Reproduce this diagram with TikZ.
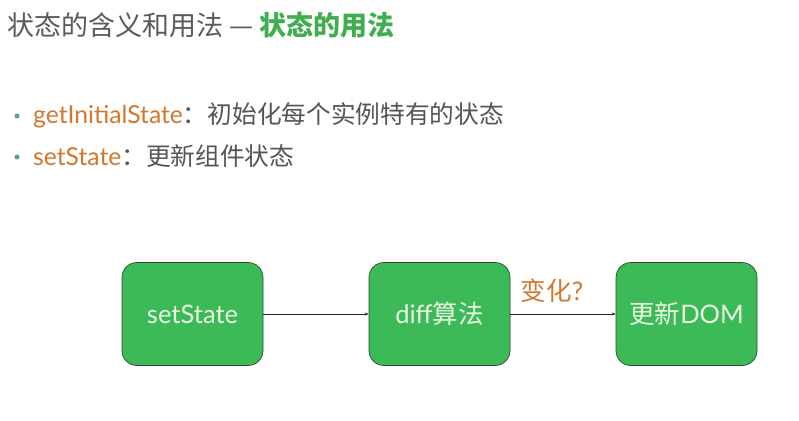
\documentclass[tikz,border=0pt]{standalone}
\usepackage{fontspec}
\setmainfont{Lato}
\newfontfamily\cjk{Noto Sans CJK SC}
\newfontfamily\lat{Lato}
\usetikzlibrary{arrows.meta}
\definecolor{titlegray}{HTML}{5A5A5A}
\definecolor{titlegreen}{HTML}{3FAE4F}
\definecolor{apiorange}{HTML}{D2782D}
\definecolor{boxgreen}{HTML}{3DBA58}
\definecolor{boxedge}{HTML}{2A4A30}
\definecolor{boxtext}{HTML}{E8F8E0}
\definecolor{dotcol}{HTML}{5AA08A}
\definecolor{textgray}{HTML}{555555}
\tikzset{
  stepbox/.style={draw=boxedge, line width=0.7bp, fill=boxgreen, rounded corners=15bp,
    minimum width=141bp, minimum height=103bp, inner sep=0pt, text=boxtext,
    font=\fontsize{25.5bp}{30bp}\selectfont},
  flow/.style={draw=black!85, line width=0.6bp, -{Stealth[length=4bp,width=3bp]}},
  bullet/.style={circle, fill=dotcol, inner sep=0pt, minimum size=5bp},
  line/.style={anchor=west, inner sep=0pt, text=textgray, font=\fontsize{24.7bp}{29bp}\selectfont}
}
\begin{document}
\begin{tikzpicture}[x=1bp,y=-1bp]
\useasboundingbox (0,0) rectangle (799,420);
\fill[white] (0,0) rectangle (799,420);
% title
\node[anchor=west, inner sep=0pt, font=\fontsize{27bp}{31bp}\selectfont] (title) at (7,25)
  {\cjk\color{titlegray}状态的含义和用法 — \color{titlegreen}\bfseries 状态的用法};
% bullets
\node[bullet] (d1) at (17,116) {};
\node[line] (l1) at (33,115) {{\lat\color{apiorange}getInitialState}{\cjk ：初始化每个实例特有的状态}};
\node[bullet] (d2) at (17,157) {};
\node[line] (l2) at (33,156) {{\lat\color{apiorange}setState}{\cjk ：更新组件状态}};
% flow
\node[stepbox] (s) at (192.5,314) {\lat setState};
\node[stepbox] (d) at (439.5,314) {\lat diff\cjk 算法};
\node[stepbox] (u) at (686.5,314) {\cjk 更新\lat DOM};
\draw[flow] (s) -- (d);
\draw[flow] (d) -- node[above=8bp, text=apiorange, font=\fontsize{25.5bp}{30bp}\selectfont, xshift=-11bp] (q) {\cjk 变化\lat ?} (u);
\end{tikzpicture}
\end{document}
